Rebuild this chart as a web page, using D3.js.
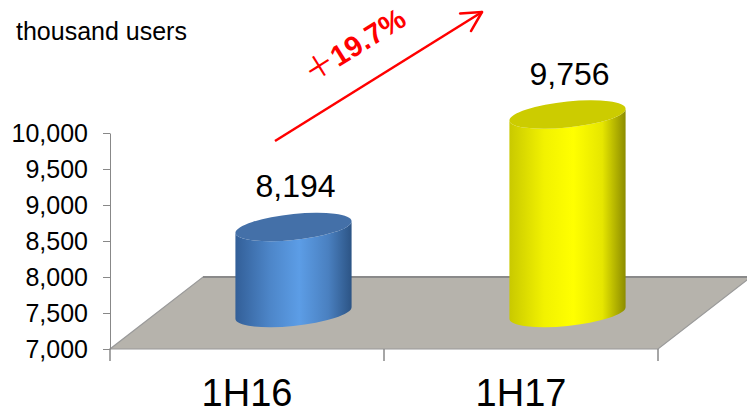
<!DOCTYPE html>
<html>
<head>
<meta charset="utf-8">
<script src="https://cdn.jsdelivr.net/npm/d3@7"></script>
<style>
  body { margin: 0; background: #fff; }
  svg text { font-family: "Liberation Sans", Arial, sans-serif; }
</style>
</head>
<body>
<div id="chart"></div>
<script>
(function(){
	var categories = ["1H16", "1H17"];
	var values = [8194, 9756];
	var yTicks = [7000, 7500, 8000, 8500, 9000, 9500, 10000];
	var unitLabel = "thousand users";
	var growthLabel = "19.7%";

	var width = 747;
	var height = 415;

	var svg = d3.select('#chart').append('svg')
		.attr('width', width)
		.attr('height', height);

	var defs = svg.append('defs');

	var y = d3.scaleLinear().domain([7000, 10000]).range([349, 133]);
	var x = d3.scaleBand().domain(categories).range([110, 658]);

	// depth of the floor, cylinders stand half way back
	var depth = {dx: 93, dy: -72};
	var half = {dx: depth.dx / 2, dy: depth.dy / 2};
	var base = y(7000);

	// floor
	var fl = [
		[x.range()[0], base],
		[x.range()[1], base],
		[x.range()[1] + depth.dx, base + depth.dy],
		[x.range()[0] + depth.dx, base + depth.dy]
	];
	svg.append('path')
		.attr('d', d3.line()(fl) + 'Z')
		.attr('fill', '#b6b3ac')
		.attr('stroke', '#9a9a9a')
		.attr('stroke-width', 1.2);
	svg.append('line')
		.attr('x1', fl[3][0]).attr('y1', fl[3][1])
		.attr('x2', fl[2][0]).attr('y2', fl[2][1])
		.attr('stroke', '#8a8a8a').attr('stroke-width', 2);

	// y axis
	var yAxis = d3.axisLeft(y)
		.tickValues(yTicks)
		.tickFormat(d3.format(','))
		.tickSize(7)
		.tickSizeOuter(0)
		.tickPadding(15);
	var ga = svg.append('g')
		.attr('transform', 'translate(' + x.range()[0] + ',0)')
		.call(yAxis);
	ga.select('.domain').attr('stroke', '#888');
	ga.selectAll('.tick line').attr('stroke', '#888');
	ga.selectAll('.tick text')
		.attr('fill', '#000')
		.style('font-size', '25px')
		.style('font-family', '"Liberation Sans", Arial, sans-serif');

	// category ticks below the front edge
	var sep = [x.range()[0], x(categories[1]), x.range()[1]];
	svg.selectAll('.xtick')
		.data(sep)
		.enter()
		.append('line')
		.attr('x1', function(d){ return d; })
		.attr('x2', function(d){ return d; })
		.attr('y1', base)
		.attr('y2', base + 12)
		.attr('stroke', '#888')
		.attr('stroke-width', 1.5);

	svg.selectAll('.cat')
		.data(categories)
		.enter()
		.append('text')
		.attr('x', function(d){ return x(d) + x.bandwidth() / 2; })
		.attr('y', 406)
		.attr('text-anchor', 'middle')
		.style('font-size', '38px')
		.text(function(d){ return d; });

	// gradients
	var colors = [
		{id: 'gBlue', stops: ['#335f98', '#4d86c9', '#5c9de6', '#4a80c0', '#2c5485'], top: '#4470a8'},
		{id: 'gYellow', stops: ['#c9c900', '#f2f200', '#ffff00', '#e6e600', '#8c8c00'], top: '#cccc00'}
	];
	colors.forEach(function(c){
		var g = defs.append('linearGradient').attr('id', c.id)
			.attr('x1', '0').attr('x2', '1').attr('y1', '0').attr('y2', '0');
		var offs = [0, 0.3, 0.55, 0.8, 1];
		c.stops.forEach(function(s, i){
			g.append('stop').attr('offset', offs[i]).attr('stop-color', s);
		});
	});

	// cylinders
	var rx = x.bandwidth() * 0.212;
	var ry = 13;
	var shear = -0.1;

	var cyl = svg.selectAll('.cyl')
		.data(values)
		.enter()
		.append('g')
		.attr('class', 'cyl')
		.attr('transform', function(d, i){
			var cx = x(categories[i]) + x.bandwidth() / 2 + half.dx;
			return 'translate(' + cx + ',0) matrix(1,' + shear + ',0,1,0,0)';
		});

	cyl.append('path')
		.attr('d', function(d){
			var top = y(d) + half.dy, bot = base + half.dy;
			return 'M' + (-rx) + ',' + top + 'L' + (-rx) + ',' + bot +
				'A' + rx + ',' + ry + ' 0 0 0 ' + rx + ',' + bot +
				'L' + rx + ',' + top +
				'A' + rx + ',' + ry + ' 0 0 1 ' + (-rx) + ',' + top + 'Z';
		})
		.attr('fill', function(d, i){ return 'url(#' + colors[i].id + ')'; });

	cyl.append('ellipse')
		.attr('cx', 0)
		.attr('cy', function(d){ return y(d) + half.dy; })
		.attr('rx', rx)
		.attr('ry', ry)
		.attr('fill', function(d, i){ return colors[i].top; });

	// value labels
	svg.selectAll('.val')
		.data(values)
		.enter()
		.append('text')
		.attr('x', function(d, i){ return x(categories[i]) + x.bandwidth() / 2 + half.dx + 2; })
		.attr('y', function(d){ return y(d) + half.dy - 30; })
		.attr('text-anchor', 'middle')
		.style('font-size', '32px')
		.text(function(d){ return d3.format(',')(d); });

	// unit
	svg.append('text')
		.attr('x', 16)
		.attr('y', 40)
		.style('font-size', '25px')
		.text(unitLabel);

	// growth arrow
	var a0 = [275, 141], a1 = [482, 12];
	svg.append('line')
		.attr('x1', a0[0]).attr('y1', a0[1])
		.attr('x2', a1[0]).attr('y2', a1[1])
		.attr('stroke', '#ff0000')
		.attr('stroke-width', 2.5);
	var ang = Math.atan2(a1[1] - a0[1], a1[0] - a0[0]) * 180 / Math.PI;
	var hl = 22;
	[-28, 28].forEach(function(o){
		var r = (ang + 180 + o) * Math.PI / 180;
		svg.append('line')
			.attr('x1', a1[0]).attr('y1', a1[1])
			.attr('x2', a1[0] + hl * Math.cos(r)).attr('y2', a1[1] + hl * Math.sin(r))
			.attr('stroke', '#ff0000')
			.attr('stroke-width', 2.5)
			.attr('stroke-linecap', 'round');
	});

	var gt = svg.append('text')
		.attr('transform', 'translate(312,84) rotate(' + ang + ')')
		.attr('fill', '#ff0000');
	gt.append('tspan')
		.style('font-size', '31px')
		.style('font-weight', 'normal')
		.style('font-family', '"Noto Sans CJK JP", sans-serif')
		.text('＋');
	gt.append('tspan')
		.style('font-size', '29px')
		.style('font-weight', 'bold')
		.text(growthLabel);
})();
</script>
</body>
</html>
